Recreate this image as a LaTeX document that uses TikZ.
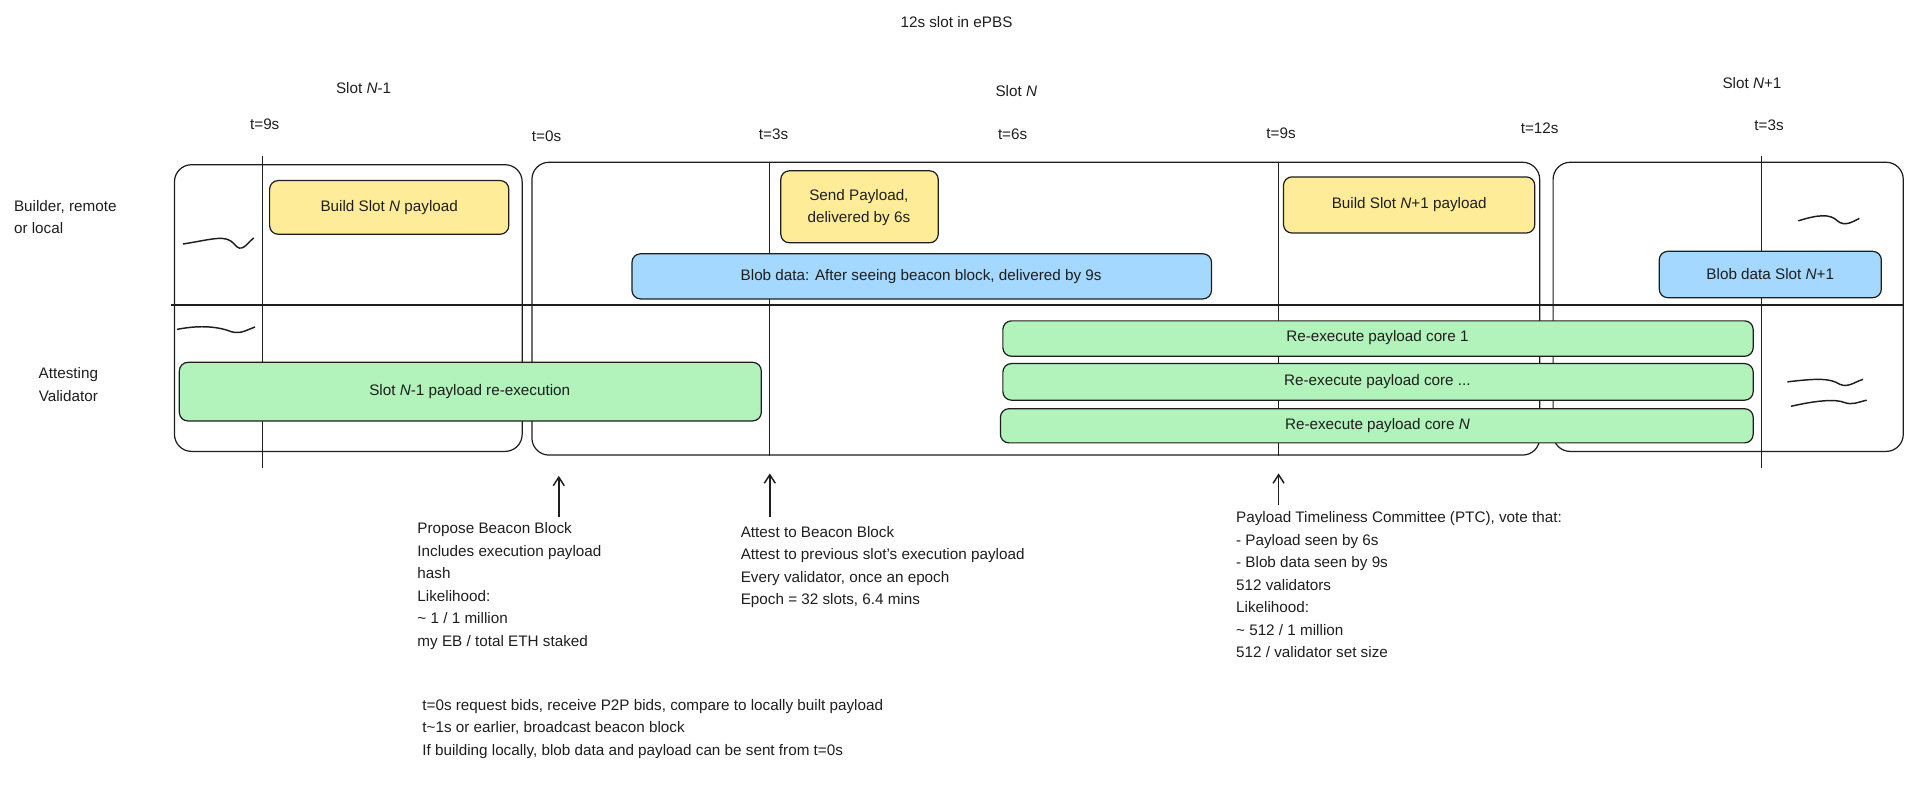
\documentclass[tikz,border=0pt]{standalone}
\usepackage{fontspec}
\setmainfont{Liberation Sans}
\usetikzlibrary{positioning,arrows.meta}
\definecolor{ink}{HTML}{1E1E1E}
\definecolor{build}{HTML}{FFEC99}
\definecolor{blob}{HTML}{A5D8FF}
\definecolor{exec}{HTML}{B2F2BB}
\tikzset{
  lbl/.style={font=\fontsize{12.5}{18.5}\selectfont, text=ink},
  note/.style={lbl, align=left, anchor=north west, inner sep=0pt},
  frame/.style={draw=ink, line width=1pt, rounded corners=14pt},
  task/.style={draw=ink, line width=1pt, rounded corners=7pt},
  squig/.style={draw=ink, line width=1.2pt},
}
\begin{document}
\begin{tikzpicture}[x=1pt,y=-1pt]
\useasboundingbox (0,0) rectangle (1568,645);
% Titel und Slots
\node[lbl] (title) at (784,18) {12s slot in ePBS};
\node[lbl] (slotA) at (298,72) {Slot \textit{N}-1};
\node[lbl] (slotB) at (833,75) {Slot \textit{N}};
\node[lbl] (slotC) at (1436,68) {Slot \textit{N}+1};
% Zeiten
\node[lbl] (ta) at (217,102) {t=9s};
\node[lbl] (tb) at (448,112) {t=0s};
\node[lbl] (tc) at (634,110) {t=3s};
\node[lbl] (td) at (830,110) {t=6s};
\node[lbl] (te) at (1050,109) {t=9s};
\node[lbl] (tf) at (1262,105) {t=12s};
\node[lbl] (tg) at (1450,103) {t=3s};
% Rahmen
\draw[frame] (143,135) rectangle (428,370);
\draw[frame] (436,133) rectangle (1262,373);
\draw[frame] (1273,133) rectangle (1560,370);
\draw[ink, line width=1.3pt] (140,250) -- (1560,250);
% Zeitlinien
\foreach \x/\a/\b in {215/128/384, 631/133/374, 1048/133/374, 1444/128/384}
  \draw[ink, line width=1pt] (\x,\a) -- (\x,\b);
% Rollen
\node[lbl, align=left, anchor=west] (builder) at (8,178) {Builder, remote\\or local};
\node[lbl, align=center] (attester) at (56,315) {Attesting\\Validator};
% Builder-Aufgaben
\filldraw[task, fill=build] (221,148) rectangle (417,192);
\node[lbl] (bN) at (319,170) {Build Slot \textit{N} payload};
\filldraw[task, fill=build] (640,140) rectangle (769,199);
\node[lbl, align=center] (send) at (704,170) {Send Payload,\\delivered by 6s};
\filldraw[task, fill=build] (1052,145) rectangle (1258,191);
\node[lbl] (bN1) at (1155,168) {Build Slot \textit{N}+1 payload};
\filldraw[task, fill=blob] (518,208) rectangle (993,245);
\node[lbl] (blobN) at (755,227) {Blob data: After seeing beacon block, delivered by 9s};
\filldraw[task, fill=blob] (1360,206) rectangle (1542,244);
\node[lbl] (blobN1) at (1451,225) {Blob data Slot \textit{N}+1};
% Validator-Aufgaben
\filldraw[task, fill=exec] (147,297) rectangle (624,345);
\node[lbl] (reA) at (385,321) {Slot \textit{N}-1 payload re-execution};
\filldraw[task, fill=exec] (822,263) rectangle (1437,292);
\node[lbl] (re1) at (1129,277) {Re-execute payload core 1};
\filldraw[task, fill=exec] (822,298) rectangle (1437,328);
\node[lbl] (re2) at (1129,313) {Re-execute payload core ...};
\filldraw[task, fill=exec] (820,335) rectangle (1437,363);
\node[lbl] (re3) at (1129,349) {Re-execute payload core \textit{N}};
% Kringel
\draw[squig] (150,200) .. controls (175,196) and (185,192) .. (192,200) .. controls (198,208) and (202,200) .. (208,195);
\draw[squig] (145,270) .. controls (165,266) and (180,268) .. (190,272) .. controls (198,274) and (203,270) .. (209,268);
\draw[squig] (1474,181) .. controls (1490,176) and (1500,175) .. (1506,181) .. controls (1512,186) and (1518,182) .. (1524,179);
\draw[squig] (1465,313) .. controls (1490,310) and (1500,310) .. (1508,315) .. controls (1515,318) and (1520,313) .. (1527,311);
\draw[squig] (1468,333) .. controls (1490,328) and (1505,327) .. (1512,330) .. controls (1518,332) and (1522,330) .. (1530,328);
% Pfeile
\coordinate (pA) at (458,390);
\coordinate (pB) at (631,388);
\coordinate (pC) at (1048,388);
\node[note] (propose) at (342,428) {Propose Beacon Block\\Includes execution payload\\hash\\Likelihood:\\\textasciitilde{} 1 / 1 million\\my EB / total ETH staked};
\node[note] (attest) at (607,431) {Attest to Beacon Block\\Attest to previous slot's execution payload\\Every validator, once an epoch\\Epoch = 32 slots, 6.4 mins};
\node[note] (ptc) at (1013,419) {Payload Timeliness Committee (PTC), vote that:\\- Payload seen by 6s\\- Blob data seen by 9s\\512 validators\\Likelihood:\\\textasciitilde{} 512 / 1 million\\512 / validator set size};
\node[note] (bids) at (346,573) {t=0s request bids, receive P2P bids, compare to locally built payload\\t\textasciitilde{}1s or earlier, broadcast beacon block\\If building locally, blob data and payload can be sent from t=0s};
\draw[ink, line width=1.2pt, -{Straight Barb[length=7pt,width=9pt]}] (458,424) -- (pA);
\draw[ink, line width=1.2pt, -{Straight Barb[length=7pt,width=9pt]}] (631,424) -- (pB);
\draw[ink, line width=1.2pt, -{Straight Barb[length=7pt,width=9pt]}] (1048,414) -- (pC);
\end{tikzpicture}
\end{document}
